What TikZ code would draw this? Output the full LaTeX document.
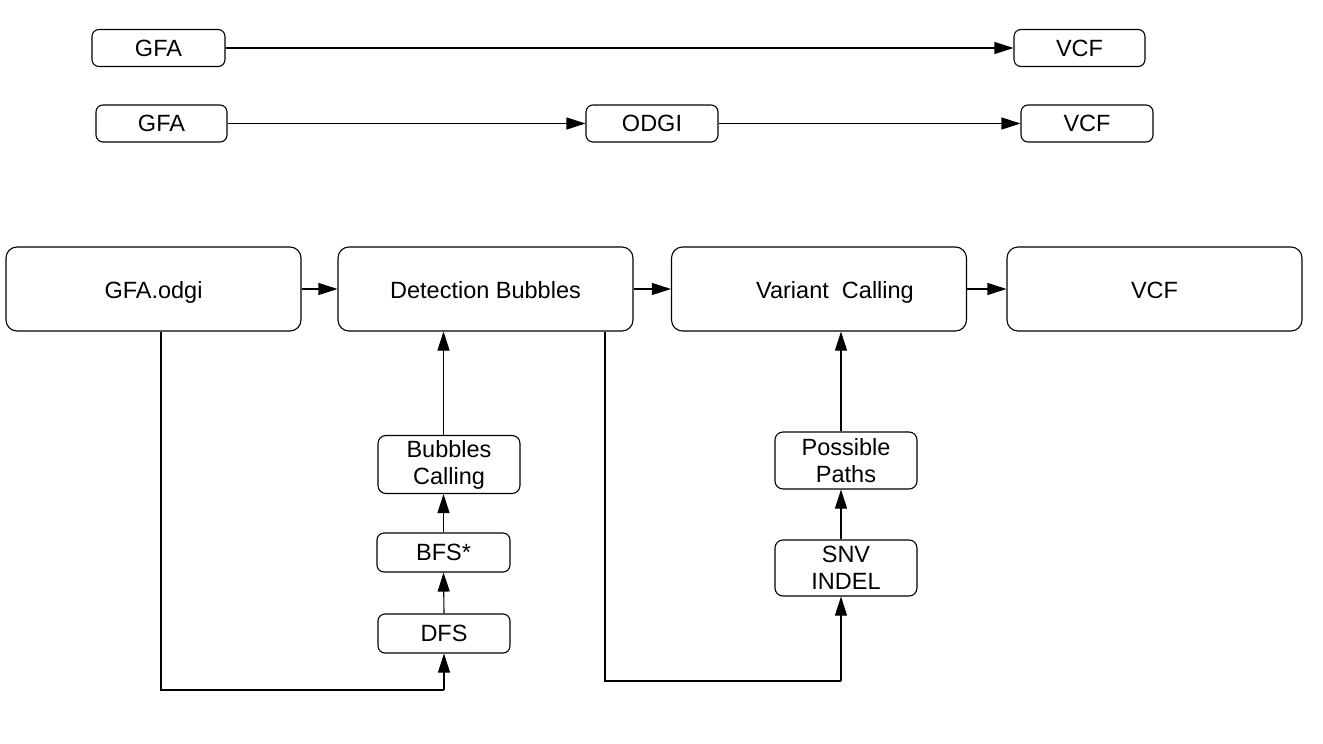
\documentclass[tikz,border=0pt]{standalone}
\usepackage{fontspec}
\setmainfont{Liberation Sans}
\usetikzlibrary{arrows.meta,calc}
\begin{document}
\begin{tikzpicture}[x=1pt,y=-1pt,
  every node/.style={font=\fontsize{23.5}{27}\selectfont, inner sep=0pt},
  bigbox/.style={draw, line width=1.1pt, rounded corners=11pt, minimum width=295pt, minimum height=84pt, text height=21pt, text depth=2pt},
  smallbox/.style={draw, line width=1.1pt, rounded corners=7pt, minimum width=132pt, minimum height=37pt, text height=19pt, text depth=3pt},
  twobox/.style={draw, line width=1.1pt, rounded corners=8pt, minimum width=142pt, minimum height=58pt, align=center},
  conn/.style={line width=1.1pt, -{Triangle[length=19pt,width=12pt]}},
  wire/.style={line width=1.1pt}]
\useasboundingbox (0,0) rectangle (1323,744);
% row 1
\node[smallbox, minimum width=133pt] (gfa1) at (158.5,48) {GFA};
\node[smallbox, minimum width=131pt] (vcf1) at (1079.5,48) {VCF};
\draw[conn] (gfa1) -- (vcf1);
% row 2
\node[smallbox, minimum width=131pt] (gfa2) at (161.5,123.5) {GFA};
\node[smallbox] (odgi) at (652,123.5) {ODGI};
\node[smallbox] (vcf2) at (1087,123.5) {VCF};
\draw[conn] (gfa2) -- (odgi);
\draw[conn] (odgi) -- (vcf2);
% main row
\node[bigbox] (godgi) at (153.5,289) {GFA.odgi};
\node[bigbox] (det) at (485.5,289) {Detection Bubbles};
\node[bigbox] (var) at (819,289) {};
\node[text height=21pt, text depth=2pt] at (835,289) {Variant\hspace{0.56em}Calling};
\node[bigbox] (vcf3) at (1154.5,289) {VCF};
\draw[conn] (godgi) -- (det);
\draw[conn] (det) -- (var);
\draw[conn] (var) -- (vcf3);
% left column
\node[twobox] (bc) at (449,464.5) {Bubbles\\Calling};
\node[smallbox, minimum width=133pt, minimum height=39pt] (bfs) at (443.5,552.5) {BFS*};
\node[smallbox, minimum height=39pt] (dfs) at (444,633.5) {DFS};
\draw[conn] (dfs.north) -- (bfs.south);
\draw[conn] (bfs.north) -- (bfs.north |- bc.south);
\draw[conn] (bfs.north |- bc.north) -- (bfs.north |- det.south);
% right column
\node[twobox, minimum height=57pt] (pp) at (846,460.5) {Possible\\Paths};
\node[twobox, minimum height=56pt] (snv) at (846,568) {SNV\\INDEL};
\coordinate (ax) at (841,0);
\draw[conn] (snv.north -| ax) -- (pp.south -| ax);
\draw[conn] (pp.north -| ax) -- (var.south -| ax);
% feedback wires
\coordinate (c1) at (161,690);
\draw[wire] (godgi.south -| c1) -- (c1) -- (c1 -| dfs.south);
\draw[conn] (c1 -| dfs.south) -- (dfs.south);
\coordinate (c2) at (605,681);
\coordinate (c3) at (841,681);
\draw[wire] (det.south -| c2) -- (c2) -- (c3);
\draw[conn] (c3) -- (c3 |- snv.south);
\end{tikzpicture}
\end{document}
